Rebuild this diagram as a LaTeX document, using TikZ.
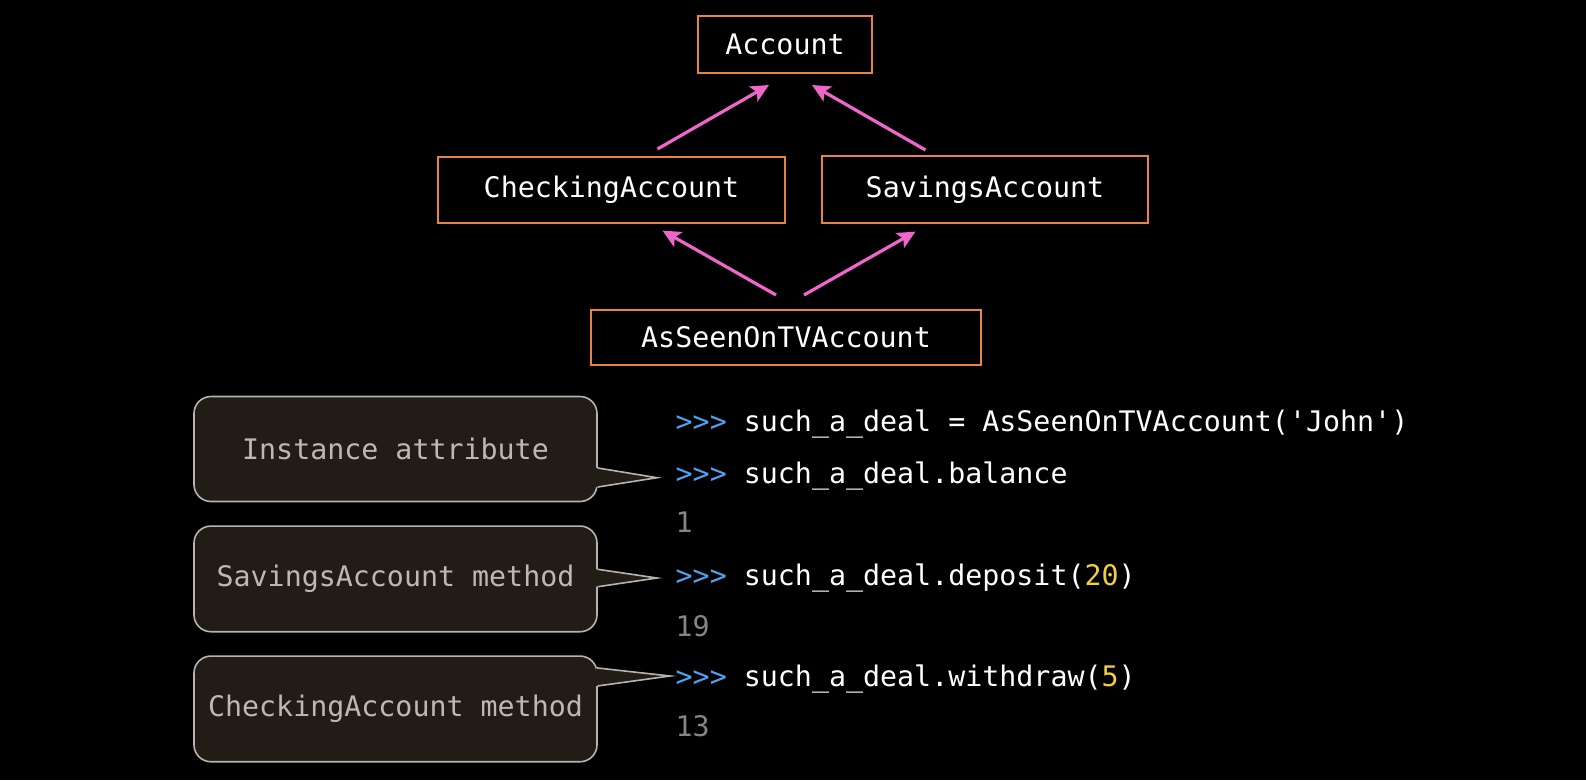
\documentclass[tikz,border=0pt]{standalone}
\usepackage{fontspec}
\setmonofont{DejaVu Sans Mono}
\usepackage{xcolor}
\usetikzlibrary{shapes, positioning, arrows.meta, calc}
\definecolor{boxorange}{HTML}{E8843C}
\definecolor{arrowpink}{HTML}{EE66CC}
\definecolor{promptblue}{HTML}{4EA3F0}
\definecolor{numyellow}{HTML}{F3CF3E}
\definecolor{outgray}{HTML}{858585}
\definecolor{notefill}{HTML}{211C16}
\definecolor{noteline}{HTML}{B8B4AD}
\definecolor{notetext}{HTML}{BDB8B0}
\newcommand{\pr}{\textcolor{promptblue}{>>>}}
\newcommand{\num}[1]{\textcolor{numyellow}{#1}}
\begin{document}
\begin{tikzpicture}[x=1pt, y=-1pt,
  font=\ttfamily\fontsize{28.3}{34}\selectfont,
  classbox/.style={draw=boxorange, line width=2pt, text=white, inner sep=0pt},
  inherit/.style={-{Stealth[length=18pt, width=17pt, inset=4pt]}, draw=arrowpink, line width=3.2pt},
  note/.style={draw=noteline, fill=notefill, line width=1.6pt, rounded corners=17pt,
    text=notetext, minimum width=403pt, inner sep=0pt},
  codeline/.style={anchor=base west, text=white, inner sep=0pt},
  output/.style={anchor=base west, text=outgray, inner sep=0pt}]
\fill[black] (0,0) rectangle (1586,780);

\node[classbox, minimum width=174pt, minimum height=57pt] (acct) at (785,44.5) {Account};
\node[classbox, minimum width=347pt, minimum height=66pt] (check) at (611.5,190) {CheckingAccount};
\node[classbox, minimum width=326pt, minimum height=67pt] (sav) at (985,189.5) {SavingsAccount};
\node[classbox, minimum width=390pt, minimum height=55pt] (tv) at (786,337.5) {AsSeenOnTVAccount};

\draw[inherit] ($(check.north)+(46,-7)$) -- ($(acct.south)+(-16,11)$);
\draw[inherit] ($(sav.north)+(-59.5,-5)$) -- ($(acct.south)+(27,11)$);
\draw[inherit] ($(tv.north)+(-10,-14)$) -- ($(check.south)+(51,6.6)$);
\draw[inherit] ($(tv.north)+(18,-14)$) -- ($(sav.south)+(-69.5,7.6)$);

\node[codeline] (l1) at (675.5,431.7) {\pr{} such\_a\_deal = AsSeenOnTVAccount('John')};
\node[codeline] (l2) at (675.5,483) {\pr{} such\_a\_deal.balance};
\node[output] (o1) at (675.5,532.7) {1};
\node[codeline] (l3) at (675.5,585) {\pr{} such\_a\_deal.deposit(\num{20})};
\node[output] (o2) at (675.5,636.7) {19};
\node[codeline] (l4) at (675.5,686) {\pr{} such\_a\_deal.withdraw(\num{5})};
\node[output] (o3) at (675.5,736.7) {13};

\node[note, minimum height=105pt] (n1) at (395.5,449) {Instance attribute};
\node[note, minimum height=105.7pt] (n2) at (395.5,578.9) {SavingsAccount method};
\node[note, minimum height=105.7pt] (n3) at (395.5,708.9) {CheckingAccount method};

\coordinate (t1) at (657,477.7);
\coordinate (t2) at (657,578);
\coordinate (t3) at (670,676);

\fill[notefill] ($(n1.east)+(-2,19)$) -- (t1) -- ($(n1.east)+(-2,38)$) -- cycle;
\draw[noteline, line width=1.6pt, line join=miter] ($(n1.east)+(0,19)$) -- (t1) -- ($(n1.east)+(0,38)$);
\fill[notefill] ($(n2.east)+(-2,-9.6)$) -- (t2) -- ($(n2.east)+(-2,7.8)$) -- cycle;
\draw[noteline, line width=1.6pt, line join=miter] ($(n2.east)+(0,-9.6)$) -- (t2) -- ($(n2.east)+(0,7.8)$);
\fill[notefill] ($(n3.east)+(-2,-41)$) -- (t3) -- ($(n3.east)+(-2,-23)$) -- cycle;
\draw[noteline, line width=1.6pt, line join=miter] ($(n3.east)+(-1,-41)$) -- (t3) -- ($(n3.east)+(0,-23)$);
\end{tikzpicture}
\end{document}
